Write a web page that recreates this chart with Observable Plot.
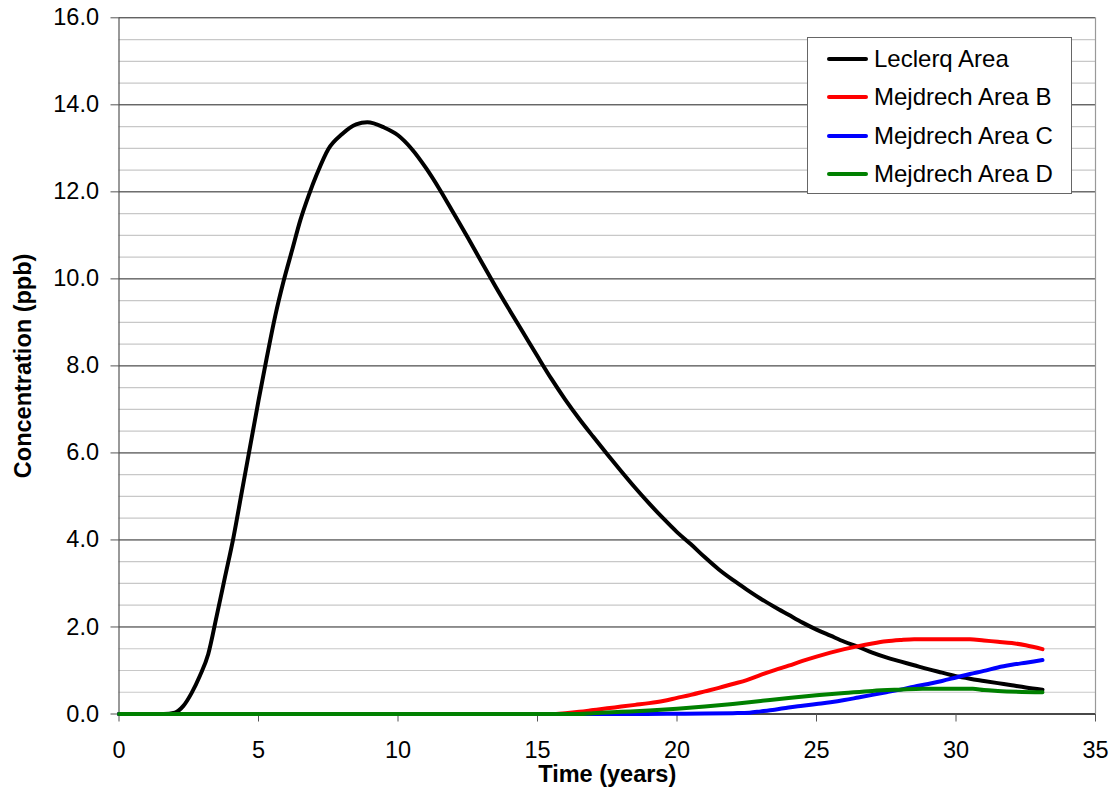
<!DOCTYPE html>
<html>
<head>
<meta charset="utf-8">
<script src="https://cdn.jsdelivr.net/npm/d3@7"></script>
<script src="https://cdn.jsdelivr.net/npm/@observablehq/plot@0.6"></script>
<style>
  html, body { margin: 0; padding: 0; background: #fff; }
  #wrap { position: relative; width: 1116px; height: 789px; font-family: "Liberation Sans", Arial, sans-serif; }
  #legend {
    position: absolute; left: 807px; top: 37px; width: 265px; height: 157px;
    background: #fff; border: 1px solid #666; box-sizing: border-box;
    font-size: 24px; color: #000;
  }
  #legend .item { position: absolute; left: 19px; height: 30px; display: flex; align-items: center; }
  #legend .swatch { width: 41px; height: 4px; margin-right: 6px; border-radius: 2px; }
</style>
</head>
<body>
<div id="wrap"></div>
<script>
// Simulated concentrations at receptor areas over time
const seriesNames = ["Leclerq Area", "Mejdrech Area B", "Mejdrech Area C", "Mejdrech Area D"];
const seriesColors = ["#000000", "#ff0000", "#0000ff", "#008000"];

const leclerqTime = [0, 1.6, 2.0, 2.3, 2.6, 2.9, 3.2, 3.5, 3.8, 4.1, 4.4, 4.7, 5.0, 5.3, 5.6, 5.9, 6.2, 6.5,
  6.8, 7.1, 7.5, 8.0, 8.5, 8.9, 9.5, 10.0, 10.5, 11.0, 11.5, 12.0, 12.5, 13.0, 13.5, 14.0, 14.5, 15.0,
  15.5, 16.0, 16.5, 17.0, 17.5, 18.0, 18.5, 19.0, 19.5, 20.0, 20.5, 21.0, 21.5, 22.0, 22.5, 23.0, 23.5,
  24.0, 24.5, 25.0, 25.5, 26.0, 26.5, 27.0, 27.5, 28.0, 28.5, 29.0, 29.5, 30.0, 30.5, 31.0, 31.5, 32.0,
  32.5, 33.1];
const leclerqConc = [0, 0, 0.03, 0.18, 0.48, 0.88, 1.38, 2.25, 3.15, 4.05, 5.1, 6.15, 7.2, 8.2, 9.15, 9.95,
  10.65, 11.35, 11.92, 12.42, 12.98, 13.33, 13.55, 13.6, 13.48, 13.3, 12.98, 12.55, 12.05, 11.5, 10.95,
  10.38, 9.82, 9.28, 8.75, 8.22, 7.7, 7.22, 6.78, 6.37, 5.97, 5.58, 5.2, 4.84, 4.5, 4.18, 3.9, 3.6, 3.32,
  3.08, 2.86, 2.65, 2.46, 2.28, 2.1, 1.94, 1.8, 1.66, 1.54, 1.41, 1.3, 1.21, 1.12, 1.03, 0.95, 0.87,
  0.81, 0.76, 0.71, 0.66, 0.61, 0.56];

const areaBTime = [0, 15.5, 16.0, 16.5, 17.0, 17.5, 18.0, 18.5, 19.0, 19.5, 20.0, 20.5, 21.0, 21.5, 22.0,
  22.5, 23.0, 23.5, 24.0, 24.5, 25.0, 25.5, 26.0, 26.5, 27.0, 27.5, 28.0, 28.5, 30.5, 31.0, 31.5, 32.0,
  32.5, 33.1];
const areaBConc = [0, 0, 0.02, 0.05, 0.09, 0.13, 0.17, 0.21, 0.25, 0.3, 0.37, 0.44, 0.52, 0.6, 0.69,
  0.78, 0.9, 1.01, 1.11, 1.22, 1.32, 1.41, 1.49, 1.56, 1.62, 1.67, 1.7, 1.72, 1.72, 1.69, 1.66, 1.63,
  1.58, 1.49];

const areaCTime = [0, 18.9, 20.0, 21.0, 22.0, 22.6, 23.0, 23.5, 24.0, 24.5, 25.0, 25.5, 26.0, 26.5, 27.0,
  27.5, 28.0, 28.5, 29.0, 29.5, 30.0, 30.5, 31.0, 31.5, 32.0, 32.5, 33.1];
const areaCConc = [0, 0, 0.005, 0.01, 0.02, 0.03, 0.06, 0.1, 0.15, 0.19, 0.23, 0.27, 0.32, 0.38, 0.44,
  0.5, 0.56, 0.63, 0.69, 0.76, 0.84, 0.92, 0.99, 1.07, 1.13, 1.18, 1.24];

const areaDTime = [0, 16.5, 17.0, 18.0, 19.0, 20.0, 21.0, 22.0, 23.0, 24.0, 25.0, 26.0, 27.0, 28.0, 28.8,
  30.6, 31.0, 31.5, 33.1];
const areaDConc = [0, 0, 0.02, 0.05, 0.08, 0.12, 0.17, 0.23, 0.3, 0.37, 0.43, 0.48, 0.53, 0.56, 0.58,
  0.58, 0.55, 0.53, 0.5];

const xTicks = [0, 5, 10, 15, 20, 25, 30, 35];
const yMajorTicks = [0, 2, 4, 6, 8, 10, 12, 14, 16];
const yMinorTicks = d3.range(0, 16.01, 0.5).filter(v => v % 2 !== 0);

const xTitle = "Time (years)";
const yTitle = "Concentration (ppb)";

const times = [leclerqTime, areaBTime, areaCTime, areaDTime];
const concs = [leclerqConc, areaBConc, areaCConc, areaDConc];
const rows = seriesNames.flatMap((name, i) => times[i].map((t, j) => ({series: name, t, c: concs[i][j]})));

const chart = Plot.plot({
  width: 1116,
  height: 789,
  marginLeft: 118.5,
  marginRight: 21,
  marginTop: 17.3,
  marginBottom: 75.5,
  style: {fontFamily: "'Liberation Sans', Arial, sans-serif", fontSize: "23.5px", color: "#000", background: "#fff"},
  x: {domain: [0, 35]},
  y: {domain: [0, 16]},
  color: {domain: seriesNames, range: seriesColors},
  marks: [
    Plot.ruleY(yMinorTicks, {stroke: "#c8c8c8", strokeWidth: 1.2}),
    Plot.ruleY(yMajorTicks, {stroke: "#222", strokeWidth: 1}),
    Plot.ruleX([35], {stroke: "#999", strokeWidth: 1.2}),
    Plot.ruleX([0], {stroke: "#555", strokeWidth: 1.2}),
    Plot.ruleY([0], {stroke: "#000", strokeWidth: 1.2}),
    Plot.axisY(yMajorTicks, {tickFormat: d3.format(".1f"), tickSize: 8, tickPadding: 12, label: null, stroke: "#555", fill: "#000"}),
    Plot.axisX(xTicks, {tickSize: 8, tickPadding: 19, label: null, stroke: "#555", fill: "#000"}),
    Plot.line(rows, {x: "t", y: "c", z: "series", stroke: "series", strokeWidth: 4, curve: "monotone-x"}),
    Plot.text([yTitle], {frameAnchor: "left", textAnchor: "middle", lineAnchor: "middle", dx: -96, rotate: -90, fontWeight: "bold", fontSize: 23.5, fill: "#000"}),
    Plot.text([xTitle], {frameAnchor: "bottom", textAnchor: "middle", lineAnchor: "middle", dy: 60, fontWeight: "bold", fontSize: 23.5, fill: "#000"})
  ]
});

const wrap = document.getElementById("wrap");
wrap.appendChild(chart);

// Legend box drawn over the plot area
const legend = document.createElement("div");
legend.id = "legend";
seriesNames.forEach((name, i) => {
  const item = document.createElement("div");
  item.className = "item";
  item.style.top = (6 + i * 38.4) + "px";
  const sw = document.createElement("div");
  sw.className = "swatch";
  sw.style.background = seriesColors[i];
  const label = document.createElement("span");
  label.textContent = name;
  item.appendChild(sw);
  item.appendChild(label);
  legend.appendChild(item);
});
wrap.appendChild(legend);
</script>
</body>
</html>
